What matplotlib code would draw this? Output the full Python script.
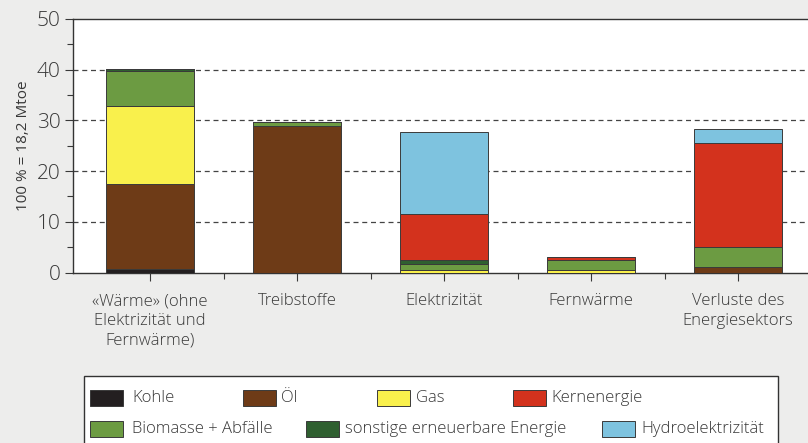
import matplotlib
matplotlib.use("Agg")
import matplotlib.pyplot as plt
from matplotlib.patches import Rectangle
import numpy as np

plt.rcParams['font.family'] = ['Open Sans', 'DejaVu Sans']
plt.rcParams['font.weight'] = 'light'

categories = ["«Wärme» (ohne\nElektrizität und\nFernwärme)", "Treibstoffe", "Elektrizität",
              "Fernwärme", "Verluste des\nEnergiesektors"]
series_names = ["Kohle", "Öl", "Gas", "Biomasse + Abfälle", "sonstige erneuerbare Energie",
                "Kernenergie", "Hydroelektrizität"]
kohle = [0.65, 0.0, 0.0, 0.0, 0.0]
oel = [16.85, 28.9, 0.0, 0.0, 1.0]
gas = [15.3, 0.0, 0.4, 0.5, 0.0]
biomasse = [6.9, 0.8, 1.3, 2.0, 4.0]
sonstige = [0.4, 0.0, 0.8, 0.0, 0.0]
kern = [0.0, 0.0, 9.0, 0.5, 20.6]
hydro = [0.0, 0.0, 16.2, 0.0, 2.8]
yticks = [0, 10, 20, 30, 40, 50]
ylabel = "100 % = 18,2 Mtoe"

series = [kohle, oel, gas, biomasse, sonstige, kern, hydro]
series_colors = ["#231f20", "#6e3b17", "#f9f04c", "#6c9b42", "#2f5f30", "#d3321d", "#7ec3df"]
TXT = "#383838"

fig = plt.figure(figsize=(8.08, 4.43), dpi=100)
fig.patch.set_facecolor("#ededec")
ax = fig.add_axes([73/808, (443-272.5)/443, 1 - 73/808, (272.5-19)/443])
ax.set_facecolor("white")

x = np.arange(len(categories))
bottom = np.zeros(len(categories))
for vals_list, col in zip(series, series_colors):
    vals = np.array(vals_list)
    ax.bar(x, vals, width=0.6, bottom=bottom, color=col,
           edgecolor="#3a3a3a", linewidth=0.7, zorder=3)
    bottom += vals

ax.set_ylim(0, 50)
ax.set_xlim(-(150-73)/147, (808-150)/147)
ax.set_yticks(yticks)
ax.set_yticks([5, 15, 25, 35, 45], minor=True)
ax.set_xticks(x)
ax.set_xticks(x[:-1] + 0.5, minor=True)
ax.set_xticklabels(categories, fontsize=12, color=TXT, linespacing=1.3)
ax.tick_params(axis='y', which='major', length=6, width=0.8, labelsize=15, colors=TXT, pad=3)
ax.tick_params(axis='y', which='minor', length=4, width=0.8, colors=TXT)
ax.tick_params(axis='x', which='major', length=6, width=0.8, pad=9, colors=TXT)
ax.tick_params(axis='x', which='minor', length=4, width=0.8, colors=TXT)

for yv in [10, 20, 30, 40]:
    ax.axhline(yv, color="#444444", linestyle=(0, (4, 3)), linewidth=0.9, zorder=1)

ax.spines['right'].set_visible(False)
for s in ['left', 'bottom', 'top']:
    ax.spines[s].set_color("#333333")
    ax.spines[s].set_linewidth(1.0)

ax.set_ylabel(ylabel, fontsize=11, color=TXT, labelpad=4)

# Legend box (manual)
W, H = 808, 443
def fx(px):
    return px / W
def fy(py):
    return 1 - py / H

box = Rectangle((fx(84), fy(446)), fx(778) - fx(84), fy(376) - fy(446), transform=fig.transFigure,
                facecolor="white", edgecolor="#333333", linewidth=1.0, clip_on=False)
fig.patches.append(box)

row1, row2 = 398, 429
legend_items = [
    (0, 90, 132, row1), (1, 243, 281, row1), (2, 377, 416, row1), (5, 513, 551, row1),
    (3, 90, 132, row2), (4, 306, 345, row2), (6, 602, 641, row2),
]
for si, px, tx, cy in legend_items:
    r = Rectangle((fx(px), fy(cy + 8)), fx(33), 16 / H, transform=fig.transFigure,
                  facecolor=series_colors[si], edgecolor="#3a3a3a", linewidth=0.7)
    fig.patches.append(r)
    fig.text(fx(tx), fy(cy), series_names[si], fontsize=12, color=TXT,
             va="center", ha="left")

fig.savefig("out.png", dpi=100, facecolor=fig.get_facecolor())
